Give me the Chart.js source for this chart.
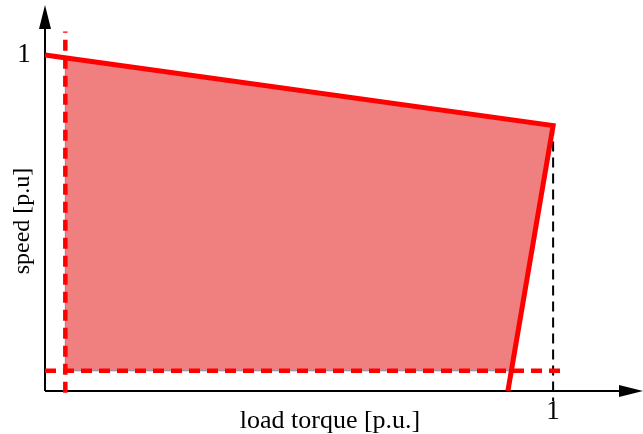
<!DOCTYPE html>
<html>
<head>
<meta charset="utf-8">
<script src="https://cdn.jsdelivr.net/npm/chart.js@4"></script>
<style>
  body { margin: 0; background: #fff; }
  canvas { display: block; }
</style>
</head>
<body>
<canvas id="myChart" width="643" height="434"></canvas>
<script>
// operating limit (torque vs speed, p.u.)
const limitTorque = [0, 1, 0.911];
const limitSpeed = [1.0, 0.79, 0];

// shaded operating region
const regionTorque = [0.04, 1, 0.918, 0.04, 0.04];
const regionSpeed = [0.992, 0.79, 0.06, 0.06, 0.992];

// minimum torque / speed guides
const minTorqueX = [0.04, 0.04];
const minTorqueY = [-0.005, 1.07];
const minSpeedX = [0, 1.015];
const minSpeedY = [0.06, 0.06];

// rated torque guide
const ratedX = [1, 1];
const ratedY = [0.79, -0.03];

const xTicks = [1];
const yTicks = [1];

function pts(xs, ys) {
    return xs.map((x, i) => ({ x: x, y: ys[i] }));
}

const axesPlugin = {
    id: 'axes',
    beforeDatasetsDraw(chart) {
        const ctx = chart.ctx;
        const a = chart.chartArea;
        const x0 = chart.scales.x.getPixelForValue(0);
        const y0 = chart.scales.y.getPixelForValue(0);
        ctx.save();
        ctx.strokeStyle = '#000';
        ctx.fillStyle = '#000';
        ctx.lineWidth = 2;
        ctx.beginPath();
        ctx.moveTo(x0, y0);
        ctx.lineTo(x0, a.top + 18);
        ctx.moveTo(x0, y0);
        ctx.lineTo(a.right - 10, y0);
        ctx.stroke();
        // arrow heads
        ctx.beginPath();
        ctx.moveTo(x0, a.top);
        ctx.lineTo(x0 - 6, a.top + 24);
        ctx.lineTo(x0 + 6, a.top + 24);
        ctx.closePath();
        ctx.fill();
        ctx.beginPath();
        ctx.moveTo(a.right + 3, y0);
        ctx.lineTo(a.right - 21, y0 - 6);
        ctx.lineTo(a.right - 21, y0 + 6);
        ctx.closePath();
        ctx.fill();
        ctx.restore();
    },
    afterDraw(chart) {
        const ctx = chart.ctx;
        const x0 = chart.scales.x.getPixelForValue(0);
        const y0 = chart.scales.y.getPixelForValue(0);
        ctx.save();
        ctx.fillStyle = '#000';
        ctx.font = '27px "Liberation Serif"';
        ctx.textAlign = 'center';
        ctx.textBaseline = 'middle';
        xTicks.forEach(v => ctx.fillText(String(v), chart.scales.x.getPixelForValue(v), y0 + 21));
        yTicks.forEach(v => ctx.fillText(String(v), x0 - 21, chart.scales.y.getPixelForValue(v)));
        ctx.font = '26px "Liberation Serif"';
        ctx.textBaseline = 'alphabetic';
        ctx.fillText('load torque [p.u.]', 330, 428);
        ctx.font = '24px "Liberation Serif"';
        ctx.textBaseline = 'middle';
        ctx.translate(23, 221);
        ctx.rotate(-Math.PI / 2);
        ctx.fillText('speed [p.u]', 0, 0);
        ctx.restore();
    }
};

const ctx = document.getElementById('myChart').getContext('2d');
new Chart(ctx, {
    type: 'scatter',
    data: {
        datasets: [
            {
                label: 'region',
                data: pts(regionTorque, regionSpeed),
                showLine: true,
                fill: 'shape',
                backgroundColor: '#F08080',
                borderColor: 'rgba(110,125,175,0.8)',
                borderWidth: 1,
                pointRadius: 0,
                order: 5
            },
            {
                label: 'rated',
                data: pts(ratedX, ratedY),
                showLine: true,
                borderColor: '#000',
                borderWidth: 2,
                borderDash: [10, 6],
                pointRadius: 0,
                clip: false,
                order: 4
            },
            {
                label: 'limit',
                data: pts(limitTorque, limitSpeed),
                showLine: true,
                borderColor: '#FF0000',
                borderWidth: 5,
                pointRadius: 0,
                clip: false,
                order: 3
            },
            {
                label: 'min torque',
                data: pts(minTorqueX, minTorqueY),
                showLine: true,
                borderColor: '#FF0000',
                borderWidth: 4.5,
                borderDash: [11, 7],
                pointRadius: 0,
                clip: false,
                order: 2
            },
            {
                label: 'min speed',
                data: pts(minSpeedX, minSpeedY),
                showLine: true,
                borderColor: '#FF0000',
                borderWidth: 4.5,
                borderDash: [11, 7],
                pointRadius: 0,
                clip: false,
                order: 1
            }
        ]
    },
    options: {
        responsive: false,
        animation: false,
        layout: { padding: { left: 45, right: 3, top: 5, bottom: 43 } },
        plugins: {
            legend: { display: false },
            tooltip: { enabled: false }
        },
        scales: {
            x: { type: 'linear', min: 0, max: 1.171, display: false },
            y: { type: 'linear', min: 0, max: 1.149, display: false }
        }
    },
    plugins: [axesPlugin]
});
</script>
</body>
</html>
